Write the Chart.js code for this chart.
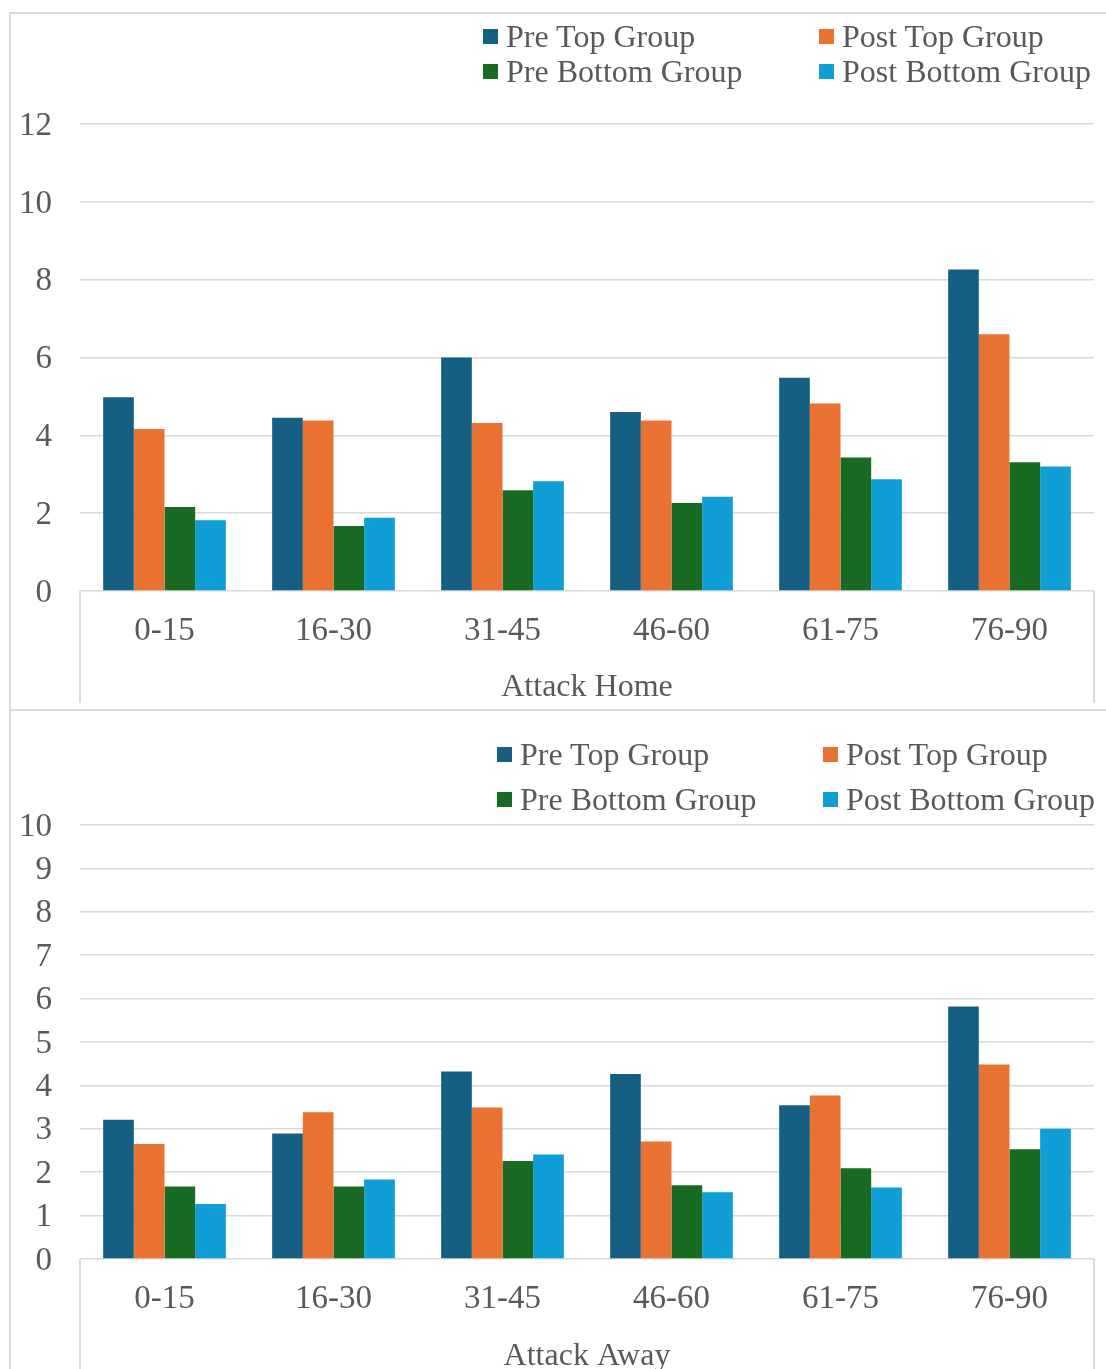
<!DOCTYPE html>
<html>
<head>
<meta charset="utf-8">
<script src="https://cdn.jsdelivr.net/npm/chart.js@4.4.1/dist/chart.umd.min.js"></script>
<style>
  html, body { margin: 0; padding: 0; background: #fff; }
  body { position: relative; width: 1106px; height: 1369px; overflow: hidden;
         font-family: "Liberation Serif", "Times New Roman", serif; }
  .panel { position: absolute; left: 9px; width: 1130px; border: 2px solid #d9d9d9; box-sizing: border-box; }
  #panelHome { top: 12px; height: 699px; }
  #panelAway { top: 709px; height: 720px; }
  canvas { position: absolute; left: 10px; }
  #homeChart { top: 14px; }
  #awayChart { top: 711px; }
  .lg-item { position: absolute; height: 36px; line-height: 36px; font-size: 32px; color: #595959; white-space: nowrap; }
  .lg-box { position: absolute; left: 0; top: 11px; width: 15px; height: 15px; }
  .lg-text { position: absolute; left: 23px; top: 0; }
</style>
</head>
<body>
<div class="panel" id="panelHome"></div>
<div class="panel" id="panelAway"></div>
<canvas id="homeChart" width="1096" height="695"></canvas>
<canvas id="awayChart" width="1096" height="668"></canvas>
<div id="legends"></div>
<script>
// Time-interval categories (minutes)
const categories = ['0-15', '16-30', '31-45', '46-60', '61-75', '76-90'];
const seriesNames = ['Pre Top Group', 'Post Top Group', 'Pre Bottom Group', 'Post Bottom Group'];
const seriesColors = ['#156082', '#E97132', '#196B24', '#0F9ED5'];

// Attack Home
const homePreTop     = [4.98, 4.45, 6.00, 4.60, 5.48, 8.26];
const homePostTop    = [4.16, 4.38, 4.32, 4.38, 4.82, 6.60];
const homePreBottom  = [2.16, 1.67, 2.59, 2.26, 3.43, 3.31];
const homePostBottom = [1.82, 1.88, 2.82, 2.42, 2.87, 3.20];
const homeAxisMax = 12;
const homeAxisStep = 2;

// Attack Away
const awayPreTop     = [3.21, 2.89, 4.32, 4.26, 3.54, 5.82];
const awayPostTop    = [2.65, 3.38, 3.49, 2.71, 3.77, 4.48];
const awayPreBottom  = [1.67, 1.67, 2.26, 1.70, 2.09, 2.53];
const awayPostBottom = [1.27, 1.83, 2.41, 1.54, 1.65, 3.00];
const awayAxisMax = 10;
const awayAxisStep = 1;

const TEXT = '#595959';
const GRID = '#d9d9d9';
const FONT = '"Liberation Serif", "Times New Roman", serif';

// Vertical frame lines that box the category axis on both ends
const categoryFrame = {
  id: 'categoryFrame',
  afterDraw(chart, args, opts) {
    const { ctx, chartArea } = chart;
    const bottom = opts.bottom != null ? opts.bottom : chart.height;
    ctx.save();
    ctx.strokeStyle = GRID;
    ctx.lineWidth = 2;
    ctx.beginPath();
    [chartArea.left, chartArea.right].forEach(px => {
      ctx.moveTo(px, chartArea.bottom);
      ctx.lineTo(px, bottom);
    });
    ctx.stroke();
    ctx.restore();
  }
};

function makeChart(id, series, title, axisMax, axisStep, layout) {
  const datasets = series.map((vals, i) => ({
    label: seriesNames[i],
    data: vals,
    backgroundColor: seriesColors[i],
    borderWidth: 0,
    categoryPercentage: 0.726,
    barPercentage: 1.0
  }));
  return new Chart(document.getElementById(id), {
    type: 'bar',
    data: { labels: categories, datasets },
    plugins: [categoryFrame],
    options: {
      responsive: false,
      maintainAspectRatio: false,
      animation: false,
      devicePixelRatio: 1,
      layout: { padding: { top: layout.top, left: 0, right: 12, bottom: 0 } },
      plugins: {
        legend: { display: false },
        tooltip: { enabled: false },
        categoryFrame: { bottom: layout.frameBottom }
      },
      scales: {
        x: {
          grid: { display: false, drawTicks: false },
          border: { display: false },
          ticks: { color: TEXT, font: { family: FONT, size: 33, lineHeight: 1 }, padding: 24, maxRotation: 0 },
          title: { display: true, text: title, color: TEXT,
                   font: { family: FONT, size: 32, lineHeight: 1 },
                   padding: { top: 0, bottom: layout.titlePad } },
          afterFit(scale) { scale.height = layout.xHeight; }
        },
        y: {
          min: 0, max: axisMax,
          grid: { color: GRID, lineWidth: 1.5, drawTicks: false },
          border: { display: false },
          ticks: { stepSize: axisStep, color: TEXT, font: { family: FONT, size: 33 }, padding: 28, labelOffset: 2 },
          afterFit(scale) { scale.width = 70; }
        }
      }
    }
  });
}

const homeChart = makeChart('homeChart',
  [homePreTop, homePostTop, homePreBottom, homePostBottom],
  'Attack Home', homeAxisMax, homeAxisStep,
  { top: 110, xHeight: 118, titlePad: 5, frameBottom: 689 });

const awayChart = makeChart('awayChart',
  [awayPreTop, awayPostTop, awayPreBottom, awayPostBottom],
  'Attack Away', awayAxisMax, awayAxisStep,
  { top: 114, xHeight: 120, titlePad: 6, frameBottom: null });

// Two-by-two legend built from each chart's datasets
function buildLegend(chart, cols, rows) {
  const host = document.getElementById('legends');
  chart.data.datasets.forEach((ds, i) => {
    const item = document.createElement('div');
    item.className = 'lg-item';
    item.style.left = cols[i % 2] + 'px';
    item.style.top = rows[Math.floor(i / 2)] + 'px';
    const box = document.createElement('span');
    box.className = 'lg-box';
    box.style.background = ds.backgroundColor;
    const txt = document.createElement('span');
    txt.className = 'lg-text';
    txt.textContent = ds.label;
    item.appendChild(box);
    item.appendChild(txt);
    host.appendChild(item);
  });
}
buildLegend(homeChart, [483, 819], [18, 53]);
buildLegend(awayChart, [497, 823], [736, 781]);
</script>
</body>
</html>
